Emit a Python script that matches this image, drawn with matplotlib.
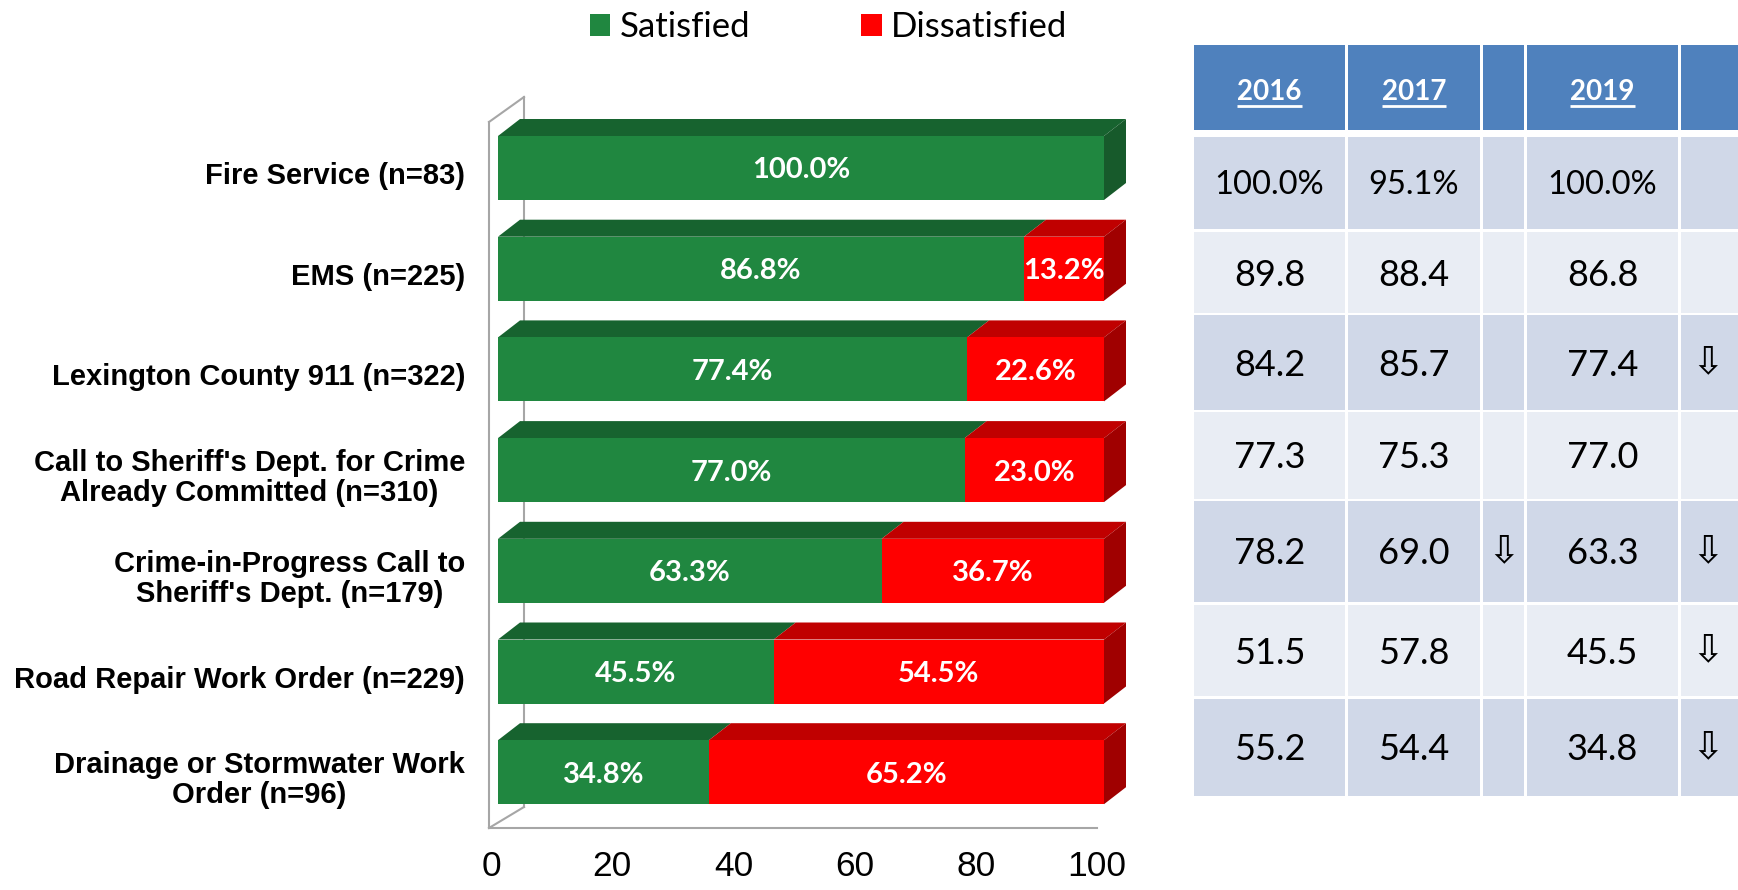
import matplotlib
matplotlib.use('Agg')
import matplotlib.pyplot as plt
from matplotlib.patches import Polygon, Rectangle
from matplotlib.transforms import ScaledTranslation, blended_transform_factory

# ---- data ----
categories = ['Fire Service (n=83)',
              'EMS (n=225)',
              'Lexington County 911 (n=322)',
              "Call to Sheriff's Dept. for Crime\nAlready Committed (n=310)",
              'Crime-in-Progress Call to\nSheriff\'s Dept. (n=179)',
              'Road Repair Work Order (n=229)',
              'Drainage or Stormwater Work\nOrder (n=96)']
satisfied = [100.0, 86.8, 77.4, 77.0, 63.3, 45.5, 34.8]
dissatisfied = [0.0, 13.2, 22.6, 23.0, 36.7, 54.5, 65.2]
x_ticks = [0, 20, 40, 60, 80, 100]

years = ['2016', '2017', '2019']
sat_2016 = [100.0, 89.8, 84.2, 77.3, 78.2, 51.5, 55.2]
sat_2017 = [95.1, 88.4, 85.7, 75.3, 69.0, 57.8, 54.4]
sat_2019 = satisfied
down_2017 = [False, False, False, False, True, False, False]
down_2019 = [False, False, True, False, True, True, True]

# ---- colours ----
GREEN = ('#208740', '#17632F', '#175A2B')   # front, top, side
RED = ('#FF0000', '#C00000', '#A00000')
HEAD = '#4F81BD'
ROW_DARK = '#D0D8E8'
ROW_LIGHT = '#E9EDF4'
WALL = '#A6A6A6'

W, H, DPI = 1738, 890, 100
fig = plt.figure(figsize=(W / DPI, H / DPI), dpi=DPI)


def px_axes(left, top, right, bottom):
    return fig.add_axes([left / W, 1 - bottom / H, (right - left) / W, (bottom - top) / H])


# ---- 3D-ish bar chart ----
BAR0_PX, UNIT_PX = 498, 6.06      # x pixel of value 0 and pixels per unit
ROW0_PX, PITCH_PX = 168, 100.7    # y pixel of first bar centre and row pitch
AX_L, AX_T, AX_R, AX_B = 489, 122, 1097, 828
ax = px_axes(AX_L, AX_T, AX_R, AX_B)
ax.set_xlim((AX_L - BAR0_PX) / UNIT_PX, (AX_R - BAR0_PX) / UNIT_PX)
ax.set_ylim((AX_B - ROW0_PX) / PITCH_PX, (AX_T - ROW0_PX) / PITCH_PX)
ax.patch.set_alpha(0)

bh = 64 / PITCH_PX
DX = 22 / UNIT_PX
DY = 17 / PITCH_PX


def box3d(y, left, width, cols, side):
    top = y - bh / 2
    bot = y + bh / 2
    r = left + width
    ax.add_patch(Polygon([(left, top), (r, top), (r + DX, top - DY), (left + DX, top - DY)],
                         closed=True, facecolor=cols[1], edgecolor='none', clip_on=False, zorder=2))
    if side:
        ax.add_patch(Polygon([(r, top), (r + DX, top - DY), (r + DX, bot - DY), (r, bot)],
                             closed=True, facecolor=cols[2], edgecolor='none', clip_on=False, zorder=2))


ypos = list(range(len(categories)))
sat_bars = ax.barh(ypos, satisfied, height=bh, color=GREEN[0], zorder=3, clip_on=False, label='Satisfied')
dis_bars = ax.barh(ypos, dissatisfied, left=satisfied, height=bh, color=RED[0], zorder=3,
                   clip_on=False, label='Dissatisfied')

# value labels: baseline placed half a digit height below the bar centre
val_tr = ax.transData + ScaledTranslation(0, -0.105, fig.dpi_scale_trans)
val_kw = dict(ha='center', va='baseline', color='white', fontsize=21, fontweight='bold',
              family='Lato', zorder=4, clip_on=False, transform=val_tr)
for i in ypos:
    box3d(i, 0, satisfied[i], GREEN, dissatisfied[i] == 0)
    if dissatisfied[i] > 0:
        box3d(i, satisfied[i], dissatisfied[i], RED, True)
    ax.text(satisfied[i] / 2, i, f'{satisfied[i]:.1f}%', **val_kw)
    if dissatisfied[i] > 0:
        ax.text(satisfied[i] + dissatisfied[i] / 2, i, f'{dissatisfied[i]:.1f}%', **val_kw)

# walls / floor
for s in ['top', 'right']:
    ax.spines[s].set_visible(False)
for s in ['left', 'bottom']:
    ax.spines[s].set_color(WALL)
    ax.spines[s].set_linewidth(1.5)
aw, ah = AX_R - AX_L, AX_B - AX_T
dxf, dyt, dyb = 35 / aw, 25 / ah, 21 / ah
kw = dict(transform=ax.transAxes, color=WALL, lw=1.5, clip_on=False, zorder=1)
ax.plot([0, dxf], [1, 1 + dyt], **kw)
ax.plot([0, dxf], [0, dyb], **kw)
ax.plot([dxf, dxf], [dyb, 1 + dyt], **kw)

# category labels
lab_tr = blended_transform_factory(ax.transAxes, ax.transData) + \
    ScaledTranslation(0, -0.08, fig.dpi_scale_trans)
for i, c in enumerate(categories):
    ax.text((465 - AX_L) / aw, i, c, transform=lab_tr, ha='right', va='center',
            multialignment='center', fontsize=21, fontweight='bold', family='Liberation Sans',
            linespacing=1.1)

# x ticks sit on the floor scale, a few pixels left of the bar front faces
floor_shift = 7 / UNIT_PX
ax.set_yticks([])
ax.set_xticks([v - floor_shift for v in x_ticks], labels=[str(v) for v in x_ticks])
ax.tick_params(axis='x', length=0, pad=16, labelsize=25.5)
for lbl in ax.get_xticklabels():
    lbl.set_family('Liberation Sans')

fig.legend(handles=[sat_bars, dis_bars], labels=['Satisfied', 'Dissatisfied'], loc='center',
           bbox_to_anchor=(828.5 / W, 1 - 27 / H), ncol=2, frameon=False,
           prop={'family': 'Lato', 'size': 25}, handlelength=0.6, handleheight=0.6,
           handletextpad=0.26, columnspacing=3.2, borderpad=0)

# ---- table on the right ----
tax = fig.add_axes([0, 0, 1, 1])
tax.set_xlim(0, W)
tax.set_ylim(H, 0)
tax.axis('off')

col_edges = [(1194, 1345), (1348, 1480), (1483, 1524), (1527, 1678), (1681, 1738)]
head_edge = (45, 130)
row_edges = [(137, 229), (232, 313), (315, 410), (412, 499), (501, 602), (605, 696), (699, 796)]

for (x0, x1) in col_edges:
    tax.add_patch(Rectangle((x0, head_edge[0]), x1 - x0, head_edge[1] - head_edge[0],
                            facecolor=HEAD, edgecolor='none'))
    for r, (y0, y1) in enumerate(row_edges):
        tax.add_patch(Rectangle((x0, y0), x1 - x0, y1 - y0,
                                facecolor=ROW_DARK if r % 2 == 0 else ROW_LIGHT, edgecolor='none'))

num_cols = [0, 1, 3]
head_texts = []
hy = (head_edge[0] + head_edge[1]) / 2
for yr, ci in zip(years, num_cols):
    cx = sum(col_edges[ci]) / 2
    head_texts.append(tax.text(cx, hy + 13, yr, ha='center', va='baseline', color='white',
                               fontsize=20, fontweight='bold', family='Lato'))

for ci, vals in zip(num_cols, [sat_2016, sat_2017, sat_2019]):
    cx = sum(col_edges[ci]) / 2
    for r, v in enumerate(vals):
        cy = sum(row_edges[r]) / 2
        if r == 0:
            tax.text(cx, cy + 11.5, f'{v:.1f}%', ha='center', va='baseline', color='black',
                     fontsize=23.5, family='Lato')
        else:
            tax.text(cx, cy + 13, f'{v:.1f}', ha='center', va='baseline', color='black',
                     fontsize=26, family='Lato')

for ci, flags in [(2, down_2017), (4, down_2019)]:
    cx = sum(col_edges[ci]) / 2 - (2 if ci == 4 else 0)
    for r, f in enumerate(flags):
        if f:
            cy = sum(row_edges[r]) / 2
            tax.text(cx, cy, '\u21e9', ha='center', va='center', color='black',
                     fontsize=28, family='DejaVu Sans')

fig.canvas.draw()
inv = tax.transData.inverted()
for t in head_texts:
    bb = t.get_window_extent()
    (x0, _), (x1, _) = inv.transform([(bb.x0, 0), (bb.x1, 0)])
    tax.plot([x0, x1], [hy + 18, hy + 18], color='white', lw=2, solid_capstyle='butt')

fig.savefig('out.png', dpi=DPI)
